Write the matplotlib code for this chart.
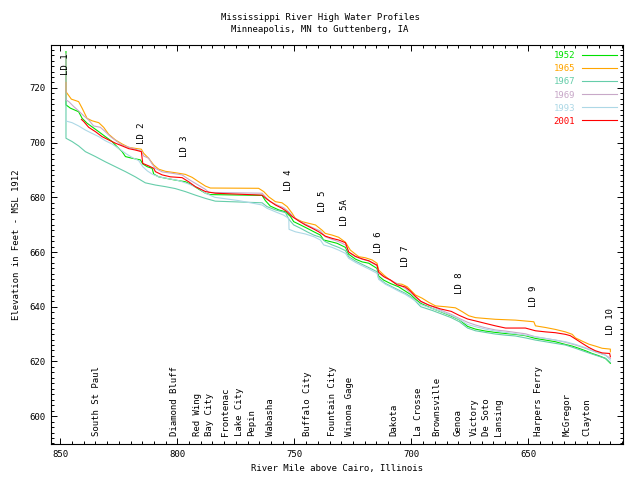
import matplotlib
matplotlib.use("Agg")
import matplotlib.pyplot as plt
from matplotlib.ticker import MultipleLocator

# ---------------- data ----------------
years = ["1952", "1965", "1967", "1969", "1993", "2001"]
colors = ["#00e000", "#ffa500", "#66cdaa", "#c8a8c8", "#add8e6", "#ff0000"]

mile_1952 = [847.6, 847.6, 845.7, 842.2, 840.7, 838.6, 836.5, 833.6, 830.8, 827.9, 825.8, 823.6, 822.2, 819.4,
             815.8, 814.8, 812.9, 810.8, 810.1, 808.0, 805.1, 800.9, 796.6, 793.7, 790.9, 788.0, 786.0, 763.8,
             762.4, 760.3, 756.7, 753.8, 751.7, 750.3, 747.4, 744.6, 741.7, 738.9, 737.5, 734.6, 731.8, 728.2,
             726.8, 723.9, 721.1, 718.2, 714.7, 714.0, 711.8, 709.0, 705.5, 702.6, 700.4, 698.3, 696.0, 691.2,
             687.6, 683.0, 679.5, 676.0, 672.6, 668.4, 664.1, 659.8, 655.6, 651.3, 647.0, 642.7, 638.5, 634.2,
             631.3, 628.5, 625.6, 622.8, 620.0, 617.1, 615.0]
elev_1952 = [733.3, 713.8, 712.6, 711.3, 708.9, 707.1, 705.8, 704.0, 702.2, 700.4, 698.5, 696.7, 694.9, 694.3,
             693.7, 692.2, 691.2, 690.6, 688.5, 687.5, 687.0, 686.3, 685.7, 684.5, 683.0, 681.5, 681.0, 680.7,
             678.8, 676.8, 675.4, 674.7, 673.0, 671.1, 669.9, 668.7, 667.4, 666.2, 664.4, 663.8, 663.2, 661.7,
             659.2, 657.4, 656.4, 655.9, 654.0, 651.2, 649.7, 648.5, 647.3, 645.7, 644.5, 642.8, 641.2, 639.4,
             638.2, 636.6, 635.2, 632.8, 631.8, 631.1, 630.6, 630.2, 629.9, 629.4, 628.4, 627.8, 627.2, 626.2,
             625.6, 624.8, 623.9, 622.9, 622.1, 621.1, 619.3]

mile_1965 = [847.6, 847.6, 845.3, 842.2, 840.7, 838.6, 836.5, 833.6, 831.5, 829.4, 826.5, 823.6, 820.8, 818.0,
             815.4, 814.4, 812.3, 810.1, 808.0, 805.1, 800.9, 796.6, 793.7, 790.9, 788.0, 785.9, 765.3, 763.1,
             761.0, 758.1, 755.3, 753.1, 751.0, 749.6, 746.7, 743.9, 741.0, 738.2, 736.8, 733.9, 731.1, 728.2,
             726.1, 723.9, 722.5, 719.7, 716.8, 714.7, 714.0, 711.8, 709.7, 706.8, 704.0, 701.8, 700.4, 698.3,
             695.4, 692.6, 689.7, 685.5, 681.2, 678.3, 675.5, 672.6, 668.4, 664.1, 655.6, 647.7, 647.0, 642.7,
             638.5, 634.2, 631.3, 629.9, 627.0, 624.2, 621.4, 618.5, 615.0, 615.0]
elev_1965 = [722.0, 718.6, 715.9, 715.0, 712.6, 708.9, 708.0, 707.3, 705.6, 703.1, 701.0, 699.5, 698.3, 697.9,
             697.6, 696.1, 694.3, 691.8, 690.3, 689.5, 689.0, 688.4, 687.3, 685.7, 684.1, 683.4, 683.3, 682.1,
             680.2, 678.4, 678.0, 676.6, 674.2, 672.3, 671.1, 670.5, 669.9, 668.0, 666.8, 666.2, 665.4, 663.6,
             660.7, 659.2, 658.3, 657.9, 657.1, 655.9, 653.4, 651.6, 650.1, 648.5, 648.2, 647.3, 646.1, 644.3,
             643.1, 641.6, 640.3, 640.0, 639.6, 638.2, 636.7, 636.0, 635.7, 635.4, 635.1, 634.5, 633.0, 632.4,
             631.7, 630.8, 629.9, 628.6, 627.4, 626.3, 625.6, 624.8, 624.5, 623.5]

mile_1967 = [847.6, 847.6, 845.0, 842.2, 839.3, 835.0, 830.8, 826.5, 822.2, 818.0, 813.7, 809.4, 805.1, 800.9,
             796.6, 792.3, 788.0, 783.8, 763.8, 761.7, 758.1, 753.8, 752.4, 750.3, 747.4, 744.6, 741.7, 738.9,
             736.8, 733.9, 731.1, 728.2, 726.8, 723.9, 721.1, 718.2, 714.7, 714.0, 711.1, 708.3, 705.5, 702.6,
             699.7, 696.0, 691.0, 687.6, 683.0, 679.5, 676.0, 672.6, 668.4, 664.1, 659.8, 655.6, 651.3, 647.0,
             642.7, 638.5, 634.2, 629.9, 625.6, 621.4, 617.1, 615.0]
elev_1967 = [716.0, 701.6, 700.4, 698.8, 696.7, 694.9, 693.0, 691.2, 689.4, 687.5, 685.3, 684.5, 683.9, 683.2,
             682.1, 680.8, 679.6, 678.6, 678.0, 676.6, 675.4, 674.4, 672.0, 669.9, 668.7, 667.4, 666.2, 665.4,
             663.8, 662.6, 661.7, 660.5, 658.3, 656.7, 655.5, 654.3, 652.8, 650.4, 648.5, 647.3, 646.1, 644.9,
             643.3, 640.0, 638.6, 637.5, 636.0, 634.5, 632.2, 631.2, 630.6, 630.0, 629.6, 629.3, 628.6, 627.8,
             627.2, 626.6, 626.0, 624.8, 623.5, 622.3, 621.1, 619.6]

mile_1969 = [847.6, 847.6, 846.4, 844.3, 842.2, 840.0, 837.9, 835.8, 832.9, 830.8, 828.6, 825.8, 823.6, 820.8,
             818.0, 815.4, 814.4, 812.3, 810.8, 809.4, 806.5, 802.3, 798.0, 795.2, 792.3, 788.0, 786.6, 763.8,
             762.4, 760.3, 757.4, 754.6, 752.4, 750.3, 747.4, 744.6, 741.7, 738.9, 736.8, 733.9, 731.1, 728.2,
             726.8, 723.9, 721.1, 718.2, 714.7, 714.0, 711.1, 708.3, 705.5, 702.6, 699.7, 696.0, 691.0, 687.6,
             683.0, 679.5, 676.0, 672.6, 668.4, 664.1, 659.8, 655.6, 651.3, 647.0, 642.7, 638.5, 634.2, 629.9,
             625.6, 621.4, 617.1, 615.0]
elev_1969 = [732.5, 715.6, 715.0, 713.2, 711.6, 709.8, 708.3, 706.1, 705.6, 704.0, 702.2, 700.4, 699.1, 698.3,
             697.6, 696.9, 695.1, 694.3, 692.2, 690.6, 689.3, 688.8, 688.2, 686.6, 685.1, 682.9, 681.8, 681.5,
             680.2, 678.4, 677.2, 676.2, 674.7, 672.7, 671.1, 669.9, 668.7, 667.7, 665.6, 664.6, 663.8, 662.6,
             659.9, 658.3, 657.4, 656.7, 655.0, 652.2, 650.6, 649.4, 648.2, 646.7, 644.6, 641.8, 640.0, 638.8,
             637.2, 635.7, 634.3, 633.3, 632.3, 631.5, 631.1, 630.6, 630.1, 629.0, 628.4, 627.8, 627.0, 626.0,
             624.8, 623.5, 622.3, 621.1]

mile_1993 = [847.6, 845.0, 842.2, 839.3, 836.5, 833.6, 830.8, 827.9, 825.1, 822.2, 819.4, 816.5, 814.8, 812.9,
             810.8, 808.0, 803.7, 799.4, 795.2, 790.9, 788.0, 784.0, 773.8, 763.8, 761.7, 758.1, 754.6, 752.4,
             752.3, 749.6, 745.3, 741.7, 738.9, 737.5, 733.9, 731.1, 728.2, 726.8, 723.9, 721.1, 718.2, 714.7,
             714.0, 711.1, 708.3, 705.5, 702.6, 699.7, 696.0, 691.0, 687.6, 683.0, 679.5, 676.0, 672.6, 668.4,
             664.1, 659.8, 655.6, 651.3, 647.0, 642.7, 638.5, 634.2, 629.9, 625.6, 621.4, 617.1, 615.0]
elev_1993 = [707.9, 707.3, 706.1, 704.6, 703.4, 702.2, 700.7, 699.5, 697.9, 696.1, 694.6, 693.4, 691.2, 689.7,
             688.5, 687.5, 686.8, 686.1, 684.9, 683.3, 681.5, 680.0, 678.8, 677.2, 676.0, 674.7, 673.5, 672.3,
             668.3, 667.4, 666.6, 665.6, 664.4, 662.6, 661.7, 660.7, 659.5, 657.7, 656.2, 655.0, 653.8, 652.2,
             650.0, 648.2, 647.0, 645.7, 644.5, 642.9, 640.8, 639.3, 638.3, 636.8, 635.3, 633.5, 632.7, 631.8,
             631.1, 630.6, 630.1, 629.6, 629.0, 628.4, 627.8, 627.2, 626.2, 625.0, 623.5, 622.3, 620.5]

mile_2001 = [841.0, 840.0, 837.9, 835.0, 832.2, 829.4, 826.5, 823.6, 820.8, 818.0, 815.4, 814.8, 812.3, 810.1,
             809.4, 806.5, 803.0, 798.0, 795.2, 792.3, 788.0, 783.8, 763.8, 761.7, 758.1, 755.3, 753.1, 751.0,
             748.2, 745.3, 742.4, 739.6, 736.8, 733.9, 731.1, 728.2, 726.8, 723.9, 721.1, 718.2, 714.7, 714.0,
             711.8, 709.0, 706.1, 702.6, 700.4, 698.3, 696.0, 692.6, 687.6, 683.0, 679.5, 676.0, 672.6, 668.4,
             664.1, 659.8, 651.3, 647.0, 642.7, 638.5, 634.2, 632.1, 629.9, 627.0, 624.2, 621.4, 618.5, 615.3,
             615.0]
elev_2001 = [708.5, 707.7, 705.6, 704.0, 702.2, 701.0, 699.8, 698.8, 697.8, 697.3, 696.7, 692.4, 691.5, 690.6,
             689.4, 688.2, 687.5, 687.2, 685.7, 683.9, 682.1, 681.5, 680.8, 679.3, 677.2, 676.0, 674.7, 673.0,
             671.4, 669.9, 668.7, 667.4, 665.8, 665.0, 664.4, 663.4, 660.0, 658.4, 657.5, 656.8, 655.2, 652.6,
             651.0, 649.8, 648.0, 647.2, 645.7, 643.8, 642.0, 640.6, 639.2, 638.3, 636.8, 635.5, 634.8, 633.9,
             633.0, 632.2, 632.2, 631.2, 630.8, 630.5, 629.9, 629.4, 628.2, 626.6, 625.1, 623.9, 623.1, 622.9,
             621.7]

towns = ["South St Paul", "Diamond Bluff", "Red Wing", "Bay City", "Frontenac", "Lake City", "Pepin",
         "Wabasha", "Buffalo City", "Fountain City", "Winona Gage", "Dakota", "La Crosse", "Brownsville",
         "Genoa", "Victory", "De Soto", "Lansing", "Harpers Ferry", "McGregor", "Clayton"]
town_miles = [834.6, 801.4, 791.4, 786.4, 779.4, 773.3, 768.3, 760.2, 744.4, 733.7, 726.3, 707.7, 696.8,
              689.2, 680.0, 673.1, 667.8, 662.8, 645.7, 633.6, 625.0]

locks = ["LD 1", "LD 2", "LD 3", "LD 4", "LD 5", "LD 5A", "LD 6", "LD 7", "LD 8", "LD 9", "LD 10"]
lock_miles = [847.9, 815.4, 796.9, 752.4, 738.2, 728.6, 714.2, 702.6, 679.5, 648.0, 614.8]
lock_label_elev = [724.8, 699.5, 694.6, 682.4, 674.5, 669.5, 659.7, 654.6, 644.5, 640.0, 629.6]

series_miles = [mile_1952, mile_1965, mile_1967, mile_1969, mile_1993, mile_2001]
series_elev = [elev_1952, elev_1965, elev_1967, elev_1969, elev_1993, elev_2001]

# ---------------- figure ----------------
FONT = "DejaVu Sans Mono"
FS = 6.5
plt.rcParams["font.family"] = FONT

fig = plt.figure(figsize=(6.4, 4.8), dpi=100)
ax = fig.add_axes([51 / 640, 1 - 444 / 480, (623 - 51) / 640, (444 - 45) / 480])

for yr, col, m, e in zip(years, colors, series_miles, series_elev):
    ax.plot(m, e, color=col, lw=0.8, label=yr)

for name, m in zip(towns, town_miles):
    ax.text(m, 592.6, name, rotation=90, ha="center", va="bottom", fontsize=FS)

for name, m, e in zip(locks, lock_miles, lock_label_elev):
    ax.text(m, e, name, rotation=90, ha="center", va="bottom", fontsize=FS)

ax.set_xlim(854, 609.6)
ax.set_ylim(589.8, 735.7)
ax.xaxis.set_major_locator(MultipleLocator(50))
ax.xaxis.set_minor_locator(MultipleLocator(5))
ax.yaxis.set_major_locator(MultipleLocator(20))
ax.yaxis.set_minor_locator(MultipleLocator(2))
ax.tick_params(which="both", direction="in", top=True, right=True, labelsize=FS, width=0.7, pad=4)
ax.tick_params(which="major", length=4.3)
ax.tick_params(which="minor", length=2.2)
for s in ax.spines.values():
    s.set_linewidth(0.8)

ax.set_xlabel("River Mile above Cairo, Illinois", fontsize=FS, labelpad=4)
ax.set_ylabel("Elevation in Feet - MSL 1912", fontsize=FS, labelpad=6)
fig.text(0.5, 1 - 17 / 480, "Mississippi River High Water Profiles", ha="center", va="center", fontsize=FS)
fig.text(0.5, 1 - 29 / 480, "Minneapolis, MN to Guttenberg, IA", ha="center", va="center", fontsize=FS)

leg = ax.legend(loc="upper right", frameon=False, markerfirst=False, labelcolor="linecolor",
                fontsize=FS, handlelength=3.8, labelspacing=0.45, borderaxespad=0.3, handletextpad=0.8)

fig.savefig("out.png", dpi=100)
